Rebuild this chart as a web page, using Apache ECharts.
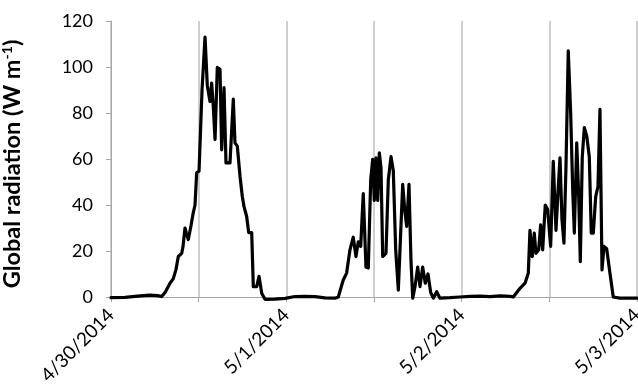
<!DOCTYPE html>
<html>
<head>
<meta charset="utf-8">
<script src="https://cdn.jsdelivr.net/npm/echarts@6/dist/echarts.min.js"></script>
<style>
  html, body { margin: 0; padding: 0; background: #fff; }
  #chart { width: 638px; height: 388px; }
</style>
</head>
<body>
<div id="chart"></div>
<script>
// Date labels shown at each midnight (hours 0, 24, 48, 72)
const dateLabels = ['4/30/2014', '5/1/2014', '5/2/2014', '5/3/2014'];

// Y-axis ticks
const yTicks = [0, 20, 40, 60, 80, 100, 120];

// Time of each reading, in hours since 4/30/2014 00:00
const hours = [
  0, 1.9, 4.0, 5.3, 6.4, 6.94, 7.4, 8.08, 8.53, 8.9, 9.21, 9.68, 9.86, 10.13, 10.3, 10.58,
  10.95, 11.22, 11.5, 11.73, 12.05, 12.46, 12.87, 13.18, 13.55, 13.78, 14.0, 14.24, 14.55,
  14.92, 15.15, 15.47, 15.74, 16.29, 16.74, 16.97, 17.29, 17.66, 17.97, 18.2, 18.57, 18.85,
  19.26, 19.48, 19.94, 20.26, 20.63, 21.08, 22.45, 23.82, 25.19, 26.55, 27.92, 29.29, 30.66,
  31.11, 31.79, 32.25, 32.71, 33.16, 33.53, 33.85, 34.18, 34.53, 34.9, 35.22, 35.55, 35.82,
  36.04, 36.27, 36.51, 36.73, 36.96, 37.19, 37.64, 37.96, 38.33, 38.64, 38.97, 39.33, 39.65,
  39.93, 40.2, 40.47, 40.79, 41.06, 41.3, 41.61, 41.98, 42.3, 42.66, 43.02, 43.39, 43.76,
  44.12, 44.58, 45.03, 46.4, 47.77, 49.14, 50.51, 51.88, 53.25, 54.62,
  55.07, 55.98, 56.67, 57.12, 57.35, 57.66, 57.94, 58.17, 58.54, 58.81, 59.09, 59.44, 59.77,
  60.18, 60.54, 60.91, 61.23, 61.46, 61.73, 62.0, 62.28, 62.59, 62.92, 63.2, 63.42, 63.75,
  64.02, 64.24, 64.51, 64.79, 65.12, 65.47, 65.74, 66.02, 66.35, 66.66, 66.93, 67.21, 67.48,
  67.85, 68.3, 68.75, 69.67, 72
];

// Global radiation (W m-1) at each time above
const radiation = [
  -0.3, -0.2, 0.5, 0.8, 0.6, 0.2, 2, 6, 8, 12, 17.6, 19, 22, 30, 28, 25,
  31, 36, 40, 54, 54.7, 90, 113, 92, 85, 93, 83, 68.5, 99.8,
  99, 64, 91, 58.3, 58.3, 86, 67, 65.6, 52.5, 43.8, 39.4, 35, 28,
  28, 4.5, 4.5, 9, 1.6, -1, -0.9, -0.6, 0.2, 0.3, 0.2, -0.4, -0.5,
  0, 7.4, 10.4, 20.5, 26, 17.6, 24, 22, 45, 13, 12.6, 51, 59.8,
  42, 60.5, 42, 62.7, 56, 17.6, 19, 51, 61, 55, 20.5, 3, 27.8,
  49, 38, 30.7, 49, 16, -0.5, 4.5, 13, 4.5, 13, 6, 10, 2,
  -0.5, 2.3, -0.5, -0.3, 0, 0.3, 0.4, 0.2, 0.5, 0.3,
  0, 3.8, 6, 10.3, 29, 17.6, 27.8, 19, 20.5, 31.4, 20.5, 40, 38,
  22, 59, 29, 48, 60.5, 33.6, 23.4, 56.9, 107, 80, 46.7, 27.8, 67,
  43.8, 15.4, 61, 73.6, 70, 61, 27.8, 27.8, 43.8, 48, 81.6, 11.8, 22,
  21, 10.3, 0, -0.5, -0.5
];

const seriesData = hours.map((h, i) => [h, radiation[i]]);

const chart = echarts.init(document.getElementById('chart'), null, { renderer: 'canvas' });

const labelFont = 'Lato, "Liberation Sans", sans-serif';

chart.setOption({
  animation: false,
  backgroundColor: '#ffffff',
  grid: { left: 111, right: 1, top: 21, bottom: 91, containLabel: false, outerBoundsMode: 'none' },
  xAxis: {
    type: 'value',
    min: 0,
    max: 72,
    interval: 12,
    axisLine: { show: true, onZero: false, lineStyle: { color: '#a6a6a6', width: 1 } },
    axisTick: { show: true, length: 5, inside: false, lineStyle: { color: '#a6a6a6' } },
    splitLine: { show: true, lineStyle: { color: '#bfbfbf', width: 1.5 } },
    axisLabel: {
      rotate: 45,
      margin: 15,
      color: '#000',
      fontSize: 19,
      fontFamily: labelFont,
      showMaxLabel: true,
      showMinLabel: true,
      formatter: v => (v % 24 === 0 ? dateLabels[v / 24] : '')
    }
  },
  yAxis: {
    type: 'value',
    min: yTicks[0],
    max: yTicks[yTicks.length - 1],
    interval: 20,
    axisLine: { show: true, lineStyle: { color: '#a6a6a6', width: 1 } },
    axisTick: { show: true, length: 5, lineStyle: { color: '#a6a6a6' } },
    splitLine: { show: false },
    axisLabel: { color: '#000', fontSize: 18, margin: 18, fontFamily: labelFont },
    name: '{t|Global radiation (W m}{s|-1}{t|)}',
    nameLocation: 'middle',
    nameGap: 86,
    nameRotate: 90,
    nameTextStyle: {
      padding: [0, 10, 0, 0],
      rich: {
        t: { fontSize: 23.5, fontWeight: 'bold', color: '#000', fontFamily: labelFont },
        s: { fontSize: 14, fontWeight: 'bold', color: '#000', fontFamily: labelFont, verticalAlign: 'top', padding: [0, 0, 11, 0] }
      }
    }
  },
  series: [{
    type: 'line',
    data: seriesData,
    showSymbol: false,
    clip: false,
    lineStyle: { color: '#000', width: 3.2, join: 'round', cap: 'round' }
  }]
});
</script>
</body>
</html>
